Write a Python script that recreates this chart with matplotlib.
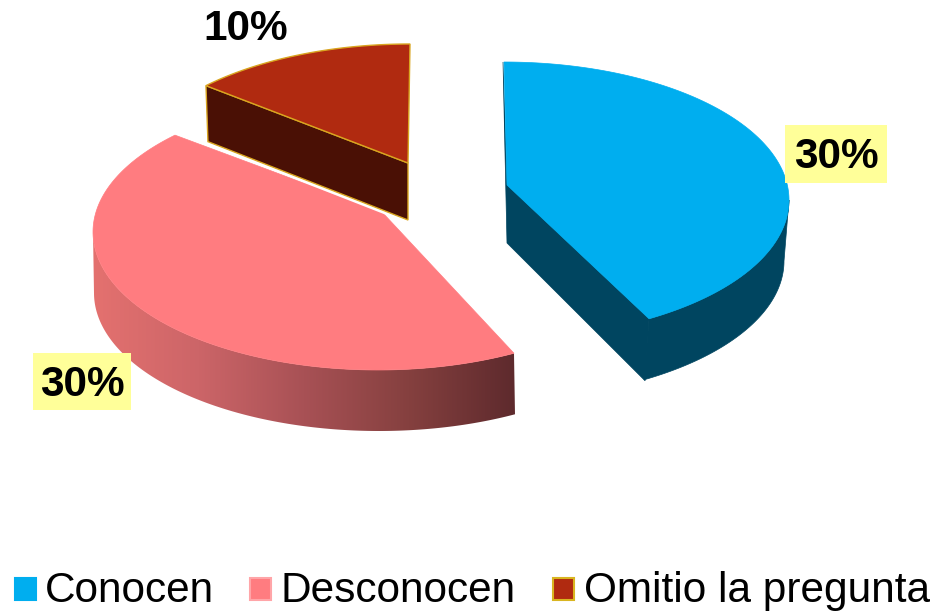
import numpy as np
import matplotlib
matplotlib.use('Agg')
import matplotlib.pyplot as plt
from matplotlib.colors import LinearSegmentedColormap
from matplotlib.patches import Polygon, Rectangle

plt.rcParams['font.family'] = ['Liberation Sans', 'DejaVu Sans']

# Datos
categorias = ['Conocen', 'Desconocen', 'Omitio la pregunta']
etiquetas = ['30%', '30%', '10%']
# share of the circle each slice really takes in the drawing
tamanos = [41.5, 45.3, 12.7]

colores = ['#00AEEF', '#FF7C80', '#B02A10']
colores_lado = ['#004560', None, '#4A1005']
bordes = ['none', 'none', '#D9A520']

# layout in image pixels: ellipse centre, apex, depth
centros = [(504, 200), (378, 232), (410, 182)]
apices = [(507, 185), (382, 212), (408, 163)]
giro = [0, -2.1, -1.8]
RX, RY = 285, 138
PROF = 61

fig = plt.figure(figsize=(9.41, 6.13), dpi=100)
ax = fig.add_axes([0, 0, 1, 1])
ax.set_xlim(0, 941)
ax.set_ylim(613, 0)
ax.axis('off')


def arco(c, t0, t1, dx=0, dy=0):
    t = np.radians(np.linspace(t0, t1, 160))
    return np.column_stack([c[0] + RX * np.cos(t) + dx, c[1] - RY * np.sin(t) + dy])


# gradient of the pink side, left to right
cmap_rosa = LinearSegmentedColormap.from_list(
    'rosa', ['#E4716F', '#CC6568', '#A85155', '#85403F', '#5E2A2D'])

inicio = 90
angulos = []
for s, g in zip(tamanos, giro):
    fin = inicio - s * 3.6
    angulos.append((inicio + g, fin + g))
    inicio = fin

# Conocen: side then top
t0, t1 = angulos[0]
c, a = centros[0], apices[0]
top = arco(c, t0, t1)
lado = np.vstack([arco(c, 0, t1), arco(c, t1, 0, dx=-5, dy=PROF)])
ax.add_patch(Polygon(lado, fc=colores_lado[0], ec=colores_lado[0], lw=0.5, zorder=2))
frente = [a, top[-1], (top[-1][0] - 4, top[-1][1] + PROF + 1), (a[0], a[1] + 58), (top[0][0] - 1, top[0][1])]
ax.add_patch(Polygon(frente, fc=colores_lado[0], ec=colores_lado[0], lw=0.5, zorder=2))
ax.add_patch(Polygon(np.vstack([top, [a]]), fc=colores[0], ec=colores[0], lw=0.5, zorder=3))

# Desconocen
t0, t1 = angulos[1]
c, a = centros[1], apices[1]
top = arco(c, t0, t1)
lado = np.vstack([arco(c, t0, -180), arco(c, -180, t0, dx=1, dy=PROF)])
parche = Polygon(lado, fc='none', ec='none', zorder=2)
ax.add_patch(parche)
im = ax.imshow(np.linspace(0, 1, 256).reshape(1, -1), cmap=cmap_rosa, aspect='auto',
               extent=(93, 515, 440, 200), zorder=2)
im.set_clip_path(parche)
ax.set_xlim(0, 941)
ax.set_ylim(613, 0)
ax.add_patch(Polygon(np.vstack([top, [a]]), fc=colores[1], ec=colores[1], lw=0.5, zorder=3))

# Omitio la pregunta
t0, t1 = angulos[2]
c, a = centros[2], apices[2]
top = arco(c, t0, t1)
base_izq = (top[0][0] + 2, top[0][1] + 56)
base_der = (a[0], a[1] + 57)
ax.plot([base_izq[0], base_der[0]], [base_izq[1] + 2, base_der[1] + 2], color='white', lw=2, zorder=4)
frente = [top[0], a, base_der, base_izq]
ax.add_patch(Polygon(frente, fc=colores_lado[2], ec=bordes[2], lw=1, zorder=4))
ax.add_patch(Polygon(np.vstack([top, [a]]), fc=colores[2], ec=bordes[2], lw=1, zorder=5))

# Porcentajes
cajas = [(785, 125, 102, 58), (33, 353, 98, 57)]
for caja, txt in zip(cajas, etiquetas[:2]):
    x, y, w, h = caja
    ax.add_patch(Rectangle((x, y), w, h, fc='#FFFF99', ec='none', zorder=6))
    ax.text(x + w / 2, y + h / 2 + 3, txt, ha='center', va='center', fontsize=30.5,
            fontweight='bold', color='black', zorder=7)
ax.text(246, 29, etiquetas[2], ha='center', va='center', fontsize=30.5,
        fontweight='bold', color='black', zorder=7)

# Leyenda
pos_cuadro = [15, 250, 553]
pos_texto = [45, 281, 584]
for nombre, color, borde, xc, xt in zip(categorias, colores, ['#00AEEF', '#FFA5A8', '#D9B520'], pos_cuadro, pos_texto):
    ax.add_patch(Rectangle((xc, 578), 21, 22, fc=color, ec=borde, lw=1.5))
    ax.text(xt, 602, nombre, ha='left', va='baseline', fontsize=30.5, color='black')

fig.savefig('out.png', dpi=100)
